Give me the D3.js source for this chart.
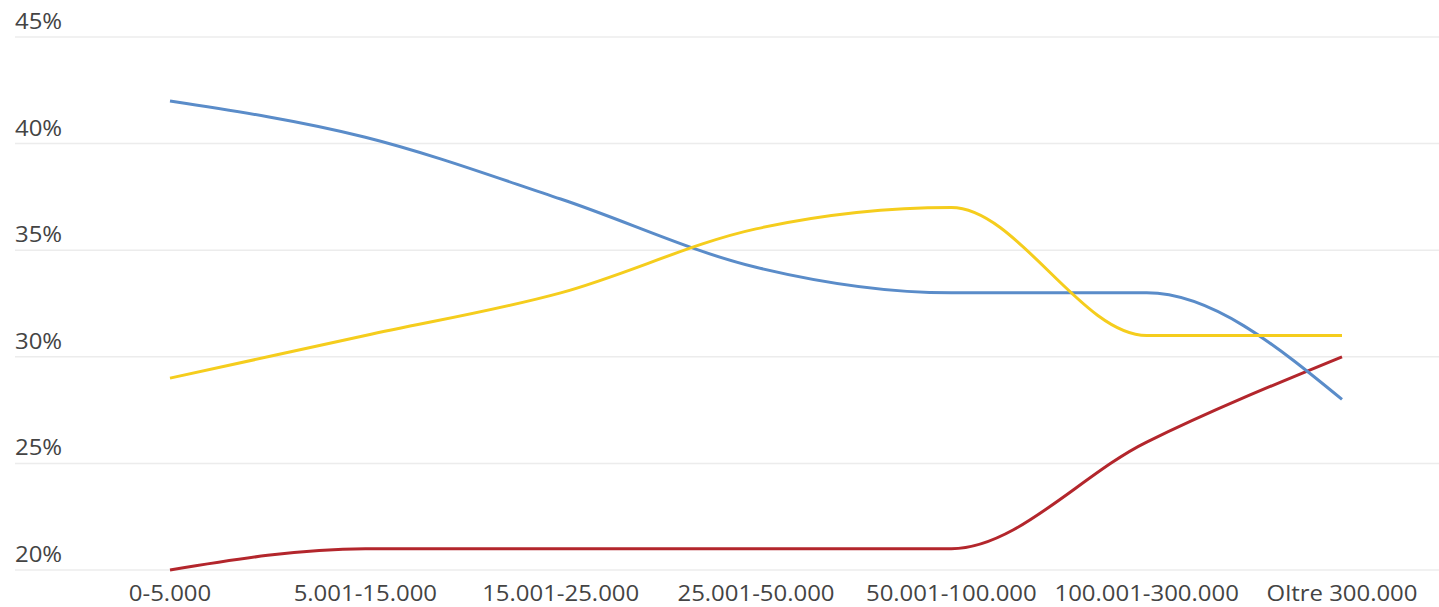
<!DOCTYPE html>
<html>
<head>
<meta charset="utf-8">
<script src="https://cdnjs.cloudflare.com/ajax/libs/d3/7.8.5/d3.min.js"></script>
<style>
  body { margin: 0; background: #fff; }
  text { font-family: "Open Sans", sans-serif; }
</style>
</head>
<body>
<div id="grafico"></div>
<script>
// Dati
var fasce = ["0-5.000", "5.001-15.000", "15.001-25.000", "25.001-50.000", "50.001-100.000", "100.001-300.000", "Oltre 300.000"];
var serieBlu = [42, 40.3, 37.4, 34.2, 33, 33, 28];
var serieGialla = [29, 31, 33, 36, 37, 31, 31];
var serieRossa = [20, 21, 21, 21, 21, 26, 30];
var tickY = [20, 25, 30, 35, 40, 45];

var ancho = 1439, alto = 607;
var allarga = 1.14; // il testo originale appare piu' largo

var svg = d3.select("#grafico")
  .append("svg")
  .attr("width", ancho)
  .attr("height", alto);

var x = d3.scalePoint()
  .domain(fasce)
  .range([170, 1342]);

var y = d3.scaleLinear()
  .domain([20, 45])
  .range([570, 37]);

// griglia orizzontale
svg.append("g")
  .selectAll("line")
  .data(tickY)
  .enter()
  .append("line")
  .attr("x1", 15)
  .attr("x2", ancho)
  .attr("y1", function(d){ return y(d); })
  .attr("y2", function(d){ return y(d); })
  .style("stroke", "#ececec")
  .attr("stroke-width", 1.5);

// etichette asse y
svg.append("g")
  .selectAll("text")
  .data(tickY)
  .enter()
  .append("text")
  .text(function(d){ return d + "%"; })
  .attr("transform", function(d){
    return "translate(15," + (y(d) - 8) + ") scale(" + allarga + ",1)";
  })
  .attr("font-size", "21px")
  .attr("fill", "#444");

// etichette asse x
svg.append("g")
  .selectAll("text")
  .data(fasce)
  .enter()
  .append("text")
  .text(function(d){ return d; })
  .attr("transform", function(d){
    return "translate(" + x(d) + ",601) scale(" + allarga + ",1)";
  })
  .style("text-anchor", "middle")
  .attr("font-size", "21px")
  .attr("fill", "#444");

var linea = d3.line()
  .x(function(d, i){ return x(fasce[i]); })
  .y(function(d){ return y(d); })
  .curve(d3.curveMonotoneX);

var serie = [
  { valori: serieRossa, colore: "#b3262c" },
  { valori: serieBlu, colore: "#5a8cc9" },
  { valori: serieGialla, colore: "#f5cd1d" }
];

svg.append("g")
  .selectAll("path")
  .data(serie)
  .enter()
  .append("path")
  .attr("d", function(d){ return linea(d.valori); })
  .attr("fill", "none")
  .style("stroke", function(d){ return d.colore; })
  .attr("stroke-width", 3);
</script>
</body>
</html>
